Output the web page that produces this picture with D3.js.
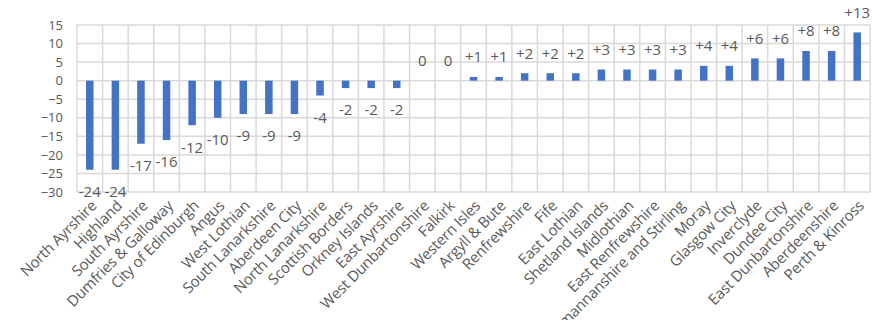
<!DOCTYPE html>
<html>
<head>
<meta charset="utf-8">
<script src="https://cdn.jsdelivr.net/npm/d3@7"></script>
<style>
  html, body { margin: 0; padding: 0; background: #fff; }
  svg { display: block; }
  text { font-family: "Open Sans", "Noto Sans", sans-serif; fill: #595959; }
</style>
</head>
<body>
<script>
// Council areas, ordered by change
const councils = [
  "North Ayrshire", "Highland", "South Ayrshire", "Dumfries & Galloway",
  "City of Edinburgh", "Angus", "West Lothian", "South Lanarkshire",
  "Aberdeen City", "North Lanarkshire", "Scottish Borders", "Orkney Islands",
  "East Ayrshire", "West Dunbartonshire", "Falkirk", "Western Isles",
  "Argyll & Bute", "Renfrewshire", "Fife", "East Lothian", "Shetland Islands",
  "Midlothian", "East Renfrewshire", "Clackmannanshire and Stirling", "Moray",
  "Glasgow City", "Inverclyde", "Dundee City", "East Dunbartonshire",
  "Aberdeenshire", "Perth & Kinross"
];
const change = [
  -24, -24, -17, -16, -12, -10, -9, -9, -9, -4, -2, -2, -2, 0, 0,
  1, 1, 2, 2, 2, 3, 3, 3, 3, 4, 4, 6, 6, 8, 8, 13
];
const yTicks = [15, 10, 5, 0, -5, -10, -15, -20, -25, -30];

const W = 872, H = 320;
const plot = { left: 77, right: 870, top: 25, bottom: 192 };

const svg = d3.select("body").append("svg")
  .attr("width", W).attr("height", H);

const x = d3.scaleBand()
  .domain(councils)
  .range([plot.left, plot.right])
  .paddingInner(0).paddingOuter(0);

const y = d3.scaleLinear()
  .domain([-30, 15])
  .range([plot.bottom, plot.top]);

const grid = svg.append("g").attr("class", "grid")
  .attr("stroke", "#d9d9d9").attr("stroke-width", 1.5).attr("fill", "none");

// horizontal gridlines
grid.selectAll("line.h").data(yTicks).join("line")
  .attr("class", "h")
  .attr("x1", plot.left).attr("x2", plot.right)
  .attr("y1", d => y(d)).attr("y2", d => y(d));

// vertical gridlines at category boundaries
const bounds = councils.map(c => x(c)).concat([plot.right]);
grid.selectAll("line.v").data(bounds).join("line")
  .attr("class", "v")
  .attr("x1", d => d).attr("x2", d => d)
  .attr("y1", plot.top).attr("y2", plot.bottom);

// y axis labels
const yAxis = d3.axisLeft(y).tickValues(yTicks).tickSize(0).tickPadding(14)
  .tickFormat(d3.format("d"));
const ya = svg.append("g").attr("transform", `translate(${plot.left},0)`).call(yAxis);
ya.select(".domain").remove();
ya.selectAll("text").attr("font-size", 13).attr("fill", "#595959")
  .attr("font-family", '"Open Sans", sans-serif');

// bars
const barW = 7.5;
const rows = councils.map((c, i) => ({ name: c, value: change[i] }));
svg.append("g").selectAll("rect").data(rows).join("rect")
  .attr("x", d => x(d.name) + x.bandwidth() / 2 - barW / 2)
  .attr("width", barW)
  .attr("y", d => Math.min(y(d.value), y(0)))
  .attr("height", d => Math.abs(y(d.value) - y(0)))
  .attr("fill", "#4472c4");

// value labels
const fmt = v => v > 0 ? "+" + v : String(v);
svg.append("g").selectAll("text").data(rows).join("text")
  .attr("x", d => x(d.name) + x.bandwidth() / 2)
  .attr("y", d => d.value < 0 ? y(d.value) + 22 : y(d.value) - 20)
  .attr("dy", "0.36em")
  .attr("text-anchor", "middle")
  .attr("font-size", 15)
  .text(d => fmt(d.value));

// category labels, rotated
svg.append("g").selectAll("text").data(councils).join("text")
  .attr("transform", d => `translate(${x(d) + x.bandwidth() / 2 + 4},${plot.bottom + 11}) rotate(-45)`)
  .attr("text-anchor", "end")
  .attr("dy", "0.35em")
  .attr("font-size", 15)
  .attr("letter-spacing", -0.2)
  .text(d => d);
</script>
</body>
</html>
